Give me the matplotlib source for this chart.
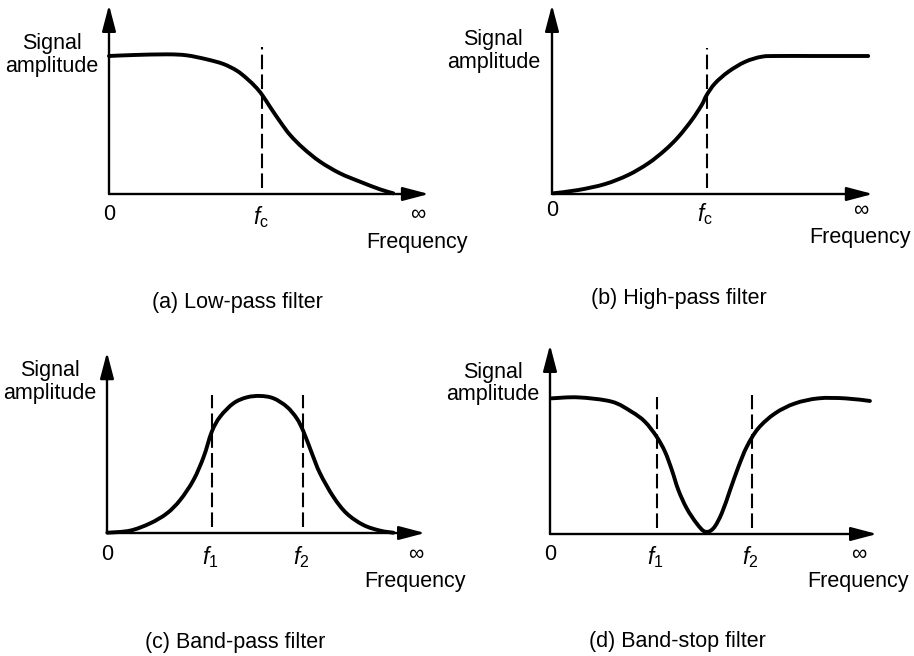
import numpy as np
import matplotlib.pyplot as plt
from matplotlib.path import Path
from matplotlib.patches import PathPatch

plt.rcParams['font.family'] = ['Liberation Sans', 'DejaVu Sans']
plt.rcParams['mathtext.fontset'] = 'custom'
plt.rcParams['mathtext.rm'] = 'Liberation Sans'
plt.rcParams['mathtext.it'] = 'Liberation Sans:italic'

# curves (frequency 0..1 ~ "0".."inf", amplitude 1 = pass level)
lowpass_x = [0.0, 0.078, 0.186, 0.25, 0.315, 0.369, 0.412, 0.444, 0.477, 0.498,
             0.519, 0.552, 0.584, 0.627, 0.681, 0.745, 0.810, 0.874, 0.917]
lowpass_y = [1.0, 1.007, 1.012, 1.005, 0.976, 0.942, 0.894, 0.838, 0.766, 0.705,
             0.633, 0.524, 0.428, 0.331, 0.234, 0.150, 0.089, 0.034, 0.005]

highpass_x = [0.004, 0.085, 0.171, 0.246, 0.311, 0.365, 0.408, 0.451, 0.483, 0.499,
              0.526, 0.569, 0.623, 0.677, 0.730, 0.838, 0.945, 1.02]
highpass_y = [0.005, 0.029, 0.072, 0.138, 0.223, 0.319, 0.415, 0.536, 0.645, 0.717,
              0.802, 0.886, 0.958, 0.995, 1.0, 1.0, 1.0, 1.0]

bandpass_x = [0.001, 0.074, 0.139, 0.193, 0.236, 0.279, 0.312, 0.338, 0.365, 0.408,
              0.451, 0.494, 0.537, 0.580, 0.612, 0.634, 0.661, 0.687, 0.730, 0.773,
              0.827, 0.881, 0.924]
bandpass_y = [0.002, 0.017, 0.070, 0.142, 0.239, 0.384, 0.553, 0.734, 0.843, 0.940,
              0.983, 0.993, 0.976, 0.915, 0.831, 0.734, 0.577, 0.433, 0.263, 0.142,
              0.058, 0.017, 0.002]

bandstop_x = [0.005, 0.091, 0.199, 0.263, 0.306, 0.344, 0.371, 0.393, 0.414, 0.441,
              0.473, 0.500, 0.527, 0.554, 0.581, 0.608, 0.635, 0.672, 0.726, 0.790,
              0.866, 0.952, 1.032]
bandstop_y = [0.983, 0.990, 0.959, 0.886, 0.814, 0.705, 0.596, 0.464, 0.319, 0.186,
              0.077, 0.017, 0.041, 0.150, 0.319, 0.488, 0.633, 0.766, 0.874, 0.946,
              0.983, 0.983, 0.964]

lowpass_cut = [0.495]
highpass_cut = [0.499]
bandpass_cut = [0.338, 0.631]
bandstop_cut = [0.344, 0.651]

cut_labels_single = [r'$\mathit{f}_\mathrm{c}$']
cut_labels_pair = [r'$\mathit{f}_\mathrm{1}$', r'$\mathit{f}_\mathrm{2}$']
captions = ['(a) Low-pass filter', '(b) High-pass filter',
            '(c) Band-pass filter', '(d) Band-stop filter']

W, H = 914, 656
SX, SY = 310, 138
FS = 15.5

fig = plt.figure(figsize=(W / 100, H / 100), dpi=100)


def make_ax(ox, oy):
    # origin pixel (ox, oy), unit scale SX/SY px
    ax = fig.add_axes([ox / W, (H - oy) / H, 1.1 * SX / W, 1.4 * SY / H])
    ax.set_xlim(0, 1.1)
    ax.set_ylim(0, 1.4)
    ax.axis('off')
    return ax


def smooth_path(xs, ys):
    # catmull-rom through the read points, drawn as cubic bezier segments
    p = np.column_stack([xs, ys])
    verts = [p[0]]
    codes = [Path.MOVETO]
    n = len(p)
    for i in range(n - 1):
        p0 = p[i - 1] if i > 0 else p[i]
        p3 = p[i + 2] if i + 2 < n else p[i + 1]
        c1 = p[i] + (p[i + 1] - p0) / 6
        c2 = p[i + 1] - (p3 - p[i]) / 6
        verts += [c1, c2, p[i + 1]]
        codes += [Path.CURVE4] * 3
    return Path(verts, codes)


def draw_panel(ax, xs, ys, cuts, cut_tops, cut_labels, xtip, ytop,
               lab_y, cut_lab_y, freq_y, sig_xy, cap_xy, caption):
    arrow = dict(arrowstyle='-|>,head_length=1.6,head_width=0.42', lw=1.7,
                 color='black', mutation_scale=10, shrinkA=0, shrinkB=0)
    ax.annotate('', xy=(xtip, 0), xytext=(0, 0), arrowprops=arrow,
                annotation_clip=False)
    ax.annotate('', xy=(0, ytop), xytext=(0, 0), arrowprops=arrow,
                annotation_clip=False)
    for c, top in zip(cuts, cut_tops):
        ax.plot([c, c], [0.04, top], color='black', lw=1.5,
                dashes=(7, 2.5), clip_on=False)
    ax.add_patch(PathPatch(smooth_path(xs, ys), facecolor='none', edgecolor='black',
                           lw=2.8, capstyle='round', joinstyle='round', clip_on=False))

    ax.text(0, lab_y, '0', fontsize=FS, ha='center', va='center')
    ax.text(0.995, lab_y, '\u221e', fontsize=FS, ha='center', va='center')
    for c, lab in zip(cuts, cut_labels):
        ax.text(c - 0.005, cut_lab_y, lab, fontsize=FS + 1, ha='center', va='center')
    ax.text(0.83, freq_y, 'Frequency', fontsize=FS, ha='left', va='center')
    ax.text(sig_xy[0], sig_xy[1], 'Signal\namplitude', fontsize=FS,
            ha='center', va='center', linespacing=1.1)
    ax.text(cap_xy[0], cap_xy[1], caption, fontsize=FS, ha='center', va='center')


ax_a = make_ax(109, 194)
draw_panel(ax_a, lowpass_x, lowpass_y, lowpass_cut, [1.067], cut_labels_single,
           1.032, 1.37, -0.145, -0.165, -0.348, (-0.184, 1.007), (0.415, -0.783),
           captions[0])

ax_b = make_ax(552, 194)
draw_panel(ax_b, highpass_x, highpass_y, highpass_cut, [1.056], cut_labels_single,
           1.035, 1.37, -0.123, -0.145, -0.312, (-0.189, 1.036), (0.409, -0.754),
           captions[1])

ax_c = make_ax(107, 533)
draw_panel(ax_c, bandpass_x, bandpass_y, bandpass_cut, [1.0, 1.0], cut_labels_pair,
           1.026, 1.31, -0.159, -0.175, -0.355, (-0.185, 1.094), (0.413, -0.797),
           captions[2])

ax_d = make_ax(550, 534)
draw_panel(ax_d, bandstop_x, bandstop_y, bandstop_cut, [0.995, 1.007], cut_labels_pair,
           1.055, 1.37, -0.152, -0.17, -0.341, (-0.185, 1.09), (0.411, -0.78),
           captions[3])

fig.savefig('out.png', dpi=100)
